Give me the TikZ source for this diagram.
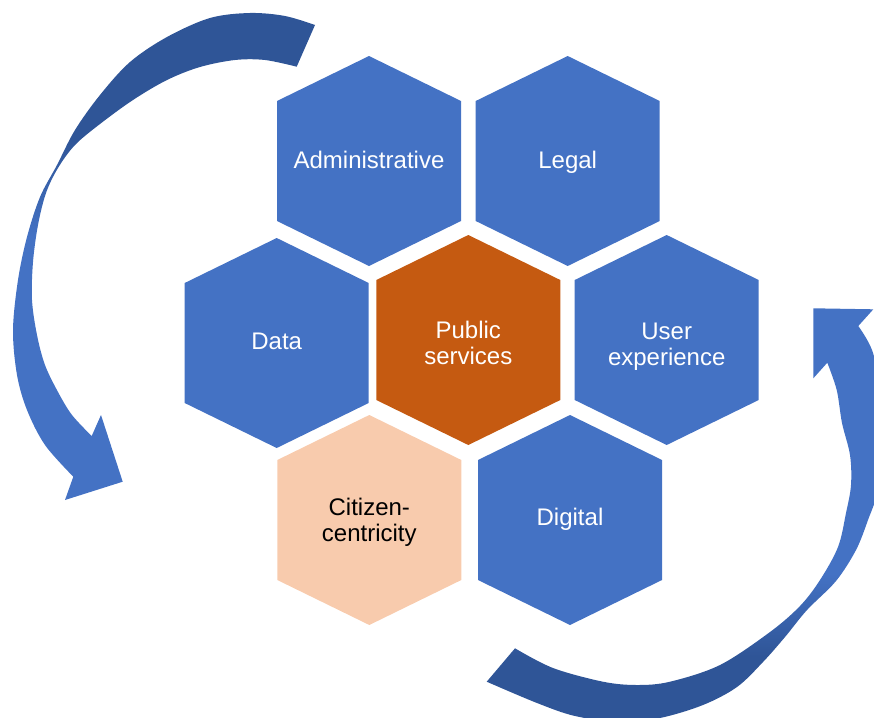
\documentclass[tikz,border=0pt]{standalone}
\usepackage{fontspec}
\setmainfont{Liberation Sans}

\definecolor{hexblue}{HTML}{4472C4}
\definecolor{hexorange}{HTML}{C55A11}
\definecolor{hexpeach}{HTML}{F8CBAD}
\definecolor{arrowdark}{HTML}{2F5597}

% dark tail fading into the lighter head
\pgfdeclareverticalshading{leftsweep}{100bp}{color(0bp)=(hexblue); color(52bp)=(hexblue); color(62bp)=(arrowdark); color(100bp)=(arrowdark)}
\pgfdeclareverticalshading{rightsweep}{100bp}{color(0bp)=(arrowdark); color(33bp)=(arrowdark); color(43bp)=(hexblue); color(100bp)=(hexblue)}

\tikzset{
  hexcell/.pic={\fill[#1] (0,-105) -- (92,-60) -- (92,60) -- (0,105) -- (-92,60) -- (-92,-60) -- cycle;},
  celltext/.style={text=white, align=center, text depth=0pt, inner sep=0pt,
    font=\fontsize{24}{25.5}\selectfont},
}

\begin{document}
\begin{tikzpicture}[x=1pt,y=-1pt]
\useasboundingbox (0,0) rectangle (874,717);
\clip (0,0) rectangle (874,717);

% honeycomb
\pic at (369,161)   {hexcell=hexblue};
\pic at (567.7,161) {hexcell=hexblue};
\pic at (276.7,343) {hexcell=hexblue};
\pic at (468.3,340) {hexcell=hexorange};
\pic at (666.7,340) {hexcell=hexblue};
\pic at (369.3,520) {hexcell=hexpeach};
\pic at (570,520)   {hexcell=hexblue};

\node[celltext] (admin)   at (369,160)   {Administrative};
\node[celltext] (legal)   at (567.7,160) {Legal};
\node[celltext] (data)    at (276.7,341) {Data};
\node[celltext] (public)  at (468.3,343) {Public\\services};
\node[celltext] (user)    at (666.7,344) {User\\experience};
\node[celltext, text=black] (citizen) at (369.3,520) {Citizen-\\centricity};
\node[celltext] (digital) at (570,517)   {Digital};

% left sweeping arrow, running down the left side
\shade[shading=leftsweep]
  (315,25)
  -- plot[smooth, tension=0.55] coordinates {(315,25) (285,16) (250,13) (210,18) (167,37) (130,62) (100,95) (75,130) (57,165) (40,197) (27,237) (18,280) (13,330) (17,375) (27,410) (45,445) (73.3,476.7)}
  -- (65,500) -- (122.7,481.7) -- (101,415) -- (91.7,436)
  -- plot[smooth, tension=0.55] coordinates {(91.7,436) (72,415) (58,392) (45,365) (37,335) (32,300) (33,262) (38,225) (46,193) (58,168) (75,145) (100,124) (133,100) (167,80) (200,67) (235,60) (265,60) (296.7,66.7)}
  -- cycle;

% right sweeping arrow, running up the right side
\shade[shading=rightsweep]
  (486.7,681.7) -- (515,648.3)
  -- plot[smooth, tension=0.55] coordinates {(515,648.3) (553,668) (603,681.7) (637,685) (670,681.7) (720,665) (770,632) (800,606) (820,580) (838,547) (846,513) (851,485) (850,455) (842,423) (836.7,390) (827.3,362.7)}
  -- (813.3,378.3) -- (813.3,308.3) -- (873.3,309.3) -- (858.3,326)
  -- plot[smooth, tension=0.55] coordinates {(858.3,326) (872,350) (881,390) (884,440) (878,490) (868,520) (856,550) (836,581) (807,610) (785,637) (763,662) (737,687) (703,705) (660,718) (620,722) (575,716) (537,703) (486.7,681.7)}
  -- cycle;
\end{tikzpicture}
\end{document}
